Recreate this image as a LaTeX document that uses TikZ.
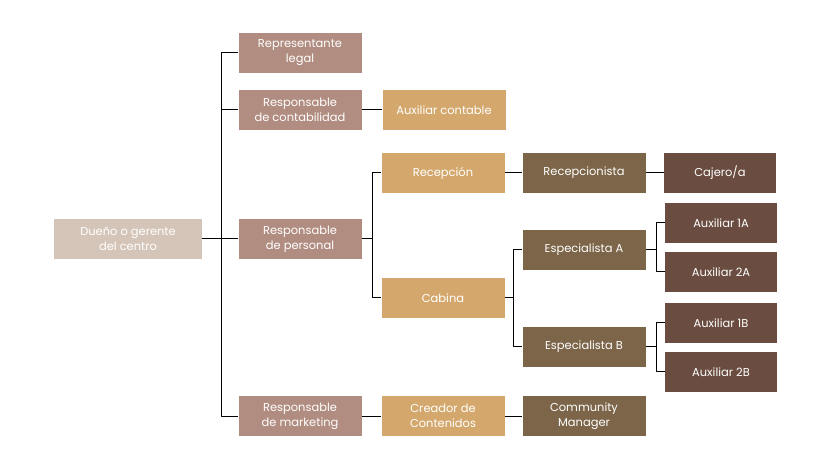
\documentclass[tikz,border=0pt]{standalone}
\usepackage{fontspec}
\setmainfont{Poppins}
\definecolor{owner}{HTML}{D5C5B8}
\definecolor{resp}{HTML}{B08D80}
\definecolor{tan}{HTML}{D4A86C}
\definecolor{mid}{HTML}{7C6549}
\definecolor{dark}{HTML}{6A4D40}
\begin{document}
\begin{tikzpicture}[x=1bp,y=-1bp,line join=bevel,
  box/.style={rectangle,minimum width=123bp,minimum height=40bp,inner sep=1bp,
    align=center,text=white,font=\fontsize{11.5}{15}\selectfont},
  small/.style={box,minimum width=112bp},
  link/.style={draw=black,line width=1bp}]
  \useasboundingbox (0,0) rectangle (832,468);
  % Level 0
  \node [box,fill=owner,minimum width=147bp] (owner) at (128,239) {Dueño o gerente\\del centro};
  % Level 1
  \node [box,fill=resp] (legal) at (300,53) {Representante\\legal};
  \node [box,fill=resp] (conta) at (300,110) {Responsable\\de contabilidad};
  \node [box,fill=resp] (perso) at (300,239) {Responsable\\de personal};
  \node [box,fill=resp] (marke) at (300,416) {Responsable\\de marketing};
  % Level 2
  \node [box,fill=tan] (auxcon) at (444,110) {Auxiliar contable};
  \node [box,fill=tan] (recep) at (443,173) {Recepción};
  \node [box,fill=tan] (cabina) at (443,298) {Cabina};
  \node [box,fill=tan] (creador) at (443,416) {Creador de\\Contenidos};
  % Level 3
  \node [box,fill=mid] (recista) at (584,173) {Recepcionista};
  \node [box,fill=mid] (espA) at (584,250) {Especialista A};
  \node [box,fill=mid] (espB) at (584,347) {Especialista B};
  \node [box,fill=mid] (commu) at (584,416) {Community\\Manager};
  % Level 4
  \node [small,fill=dark] (cajero) at (720,173) {Cajero/a};
  \node [small,fill=dark] (aux1A) at (721,223) {Auxiliar 1A};
  \node [small,fill=dark] (aux2A) at (721,272) {Auxiliar 2A};
  \node [small,fill=dark] (aux1B) at (721,323) {Auxiliar 1B};
  \node [small,fill=dark] (aux2B) at (721,372) {Auxiliar 2B};
  % Edges
  \coordinate (j0) at (221,239);
  \draw [link] (owner) -- (j0);
  \foreach \t in {legal,conta,perso,marke}
    \draw [link] (j0) |- (\t);
  \draw [link] (conta) -- (auxcon);
  \coordinate (j1) at (372,239);
  \draw [link] (perso) -- (j1);
  \foreach \t in {recep,cabina}
    \draw [link] (j1) |- (\t);
  \draw [link] (marke) -- (creador);
  \draw [link] (creador) -- (commu);
  \draw [link] (recep) -- (recista);
  \draw [link] (recista) -- (cajero);
  \coordinate (j2) at (513,298);
  \draw [link] (cabina) -- (j2);
  \foreach \t in {espA,espB}
    \draw [link] (j2) |- (\t);
  \coordinate (j3) at (656,250);
  \draw [link] (espA) -- (j3);
  \foreach \t in {aux1A,aux2A}
    \draw [link] (j3) |- (\t);
  \coordinate (j4) at (656,347);
  \draw [link] (espB) -- (j4);
  \foreach \t in {aux1B,aux2B}
    \draw [link] (j4) |- (\t);
\end{tikzpicture}
\end{document}
